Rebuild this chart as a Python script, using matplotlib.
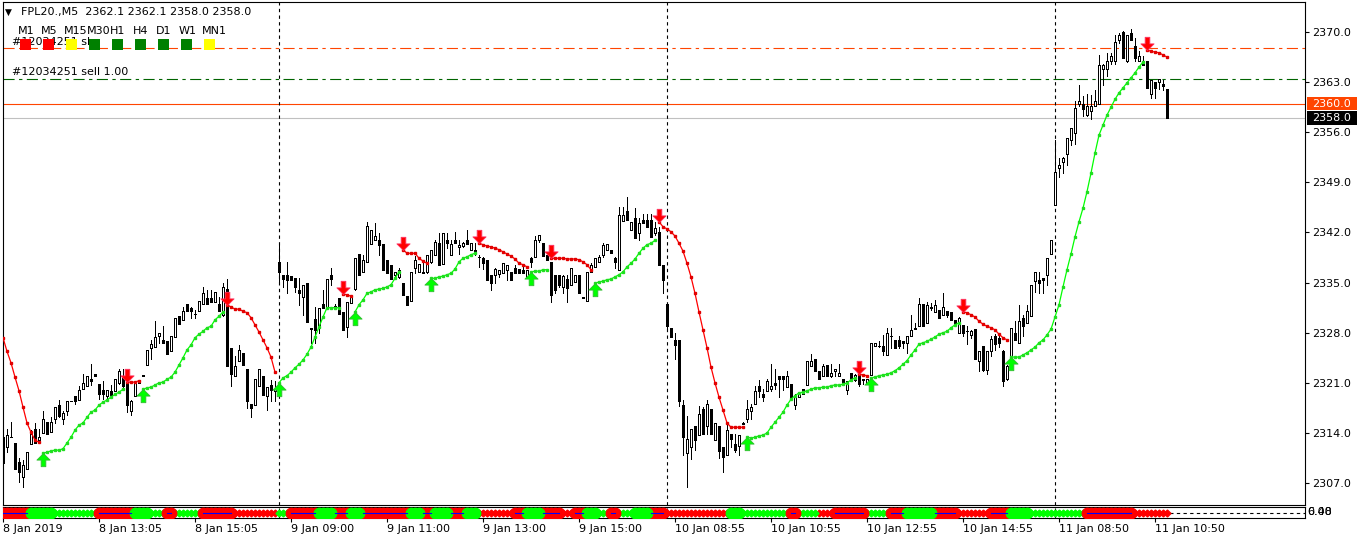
import numpy as np
import matplotlib
matplotlib.use("Agg")
import matplotlib.pyplot as plt
from matplotlib.path import Path
from matplotlib.patches import Rectangle
from matplotlib.transforms import blended_transform_factory

plt.rcParams['font.family'] = ['DejaVu Sans']

# ---------------- data (FPL20., M5) ----------------
opens = [
    2313.5, 2312.1, 2313.5, 2312.6, 2309.9, 2307.9, 2308.9, 2312.5, 2314.5, 2313.0,
    2314.0, 2315.6, 2314.1, 2315.9, 2317.9, 2316.0, 2317.0, 2318.5, 2319.1, 2318.6,
    2320.1, 2320.5, 2321.5, 2322.3, 2320.9, 2320.0, 2319.1, 2319.9, 2319.8, 2321.0,
    2321.9, 2321.4, 2317.0, 2319.1, 2321.0, 2322.0, 2323.5, 2325.8, 2326.0, 2327.5,
    2327.0, 2326.9, 2325.5, 2327.4, 2330.3, 2329.8, 2332.0, 2331.4, 2330.6, 2331.1,
    2332.0, 2332.9, 2332.9, 2332.3, 2332.0, 2330.5, 2334.1, 2325.8, 2321.9, 2324.0,
    2325.1, 2322.9, 2318.1, 2317.9, 2320.5, 2322.0, 2319.1, 2320.7, 2319.8,
    2337.9, 2336.1, 2336.1, 2335.9, 2335.6, 2334.0, 2333.0, 2334.9, 2328.6, 2329.9,
    2328.8, 2332.0, 2331.6, 2336.1, 2331.7, 2332.9, 2330.9, 2328.8, 2332.2, 2334.1,
    2339.0, 2336.5, 2337.9, 2340.4, 2341.0, 2341.0, 2340.4, 2338.2, 2337.5, 2336.1,
    2335.8, 2335.0, 2333.1, 2332.5, 2337.0, 2336.5, 2336.5, 2336.5, 2337.9, 2338.9,
    2340.5, 2337.6, 2340.9, 2338.9, 2341.0, 2340.0, 2340.1, 2341.0, 2339.6, 2339.6,
    2338.6, 2338.4, 2338.1, 2336.1, 2336.1, 2336.2, 2336.3, 2336.7, 2336.5, 2337.1,
    2336.9, 2336.8, 2335.8, 2338.4, 2338.6, 2341.0, 2340.6, 2338.9, 2337.9, 2336.1,
    2336.1, 2334.4, 2335.5, 2334.7, 2335.1, 2336.1, 2333.0, 2332.5, 2336.5, 2337.2,
    2337.9, 2338.9, 2339.5, 2339.6, 2338.4, 2336.8, 2343.6, 2345.0, 2342.4, 2344.0,
    2341.9, 2343.8, 2343.7, 2343.8, 2341.9, 2342.1, 2337.5,
    2332.0, 2328.6, 2327.0, 2327.0, 2317.9, 2311.2, 2312.1, 2315.0, 2313.7, 2317.4,
    2315.0, 2317.3, 2313.0, 2315.0, 2312.1, 2310.9, 2313.9, 2312.5, 2312.2, 2315.3,
    2315.9, 2317.0, 2318.0, 2320.5, 2319.5, 2319.8, 2320.2, 2321.0, 2321.9, 2322.0,
    2320.4, 2320.9, 2317.9, 2319.0, 2320.2, 2320.7, 2323.4, 2324.4, 2322.7, 2322.0,
    2323.5, 2322.0, 2322.7, 2322.0, 2321.5, 2320.0, 2322.4, 2321.4, 2322.6, 2321.6,
    2320.9, 2322.1, 2326.1, 2326.1, 2326.2, 2324.9, 2327.6, 2327.0, 2327.0, 2326.8,
    2326.5, 2327.5, 2328.6, 2328.9, 2332.0, 2329.3, 2331.6, 2330.9, 2331.2, 2330.5,
    2331.1, 2330.9, 2329.8, 2327.9, 2329.1, 2328.2, 2327.7, 2328.5, 2324.0, 2326.1,
    2322.8, 2325.5, 2327.5, 2327.2, 2325.4, 2321.6, 2323.0, 2327.9, 2326.5, 2330.0,
    2329.3, 2330.3, 2335.2, 2335.4, 2335.6, 2336.1, 2339.0, 2345.8, 2351.0, 2351.9,
    2352.9, 2354.9, 2355.9, 2359.9, 2359.9, 2358.4, 2358.9, 2359.7, 2359.9, 2364.9,
    2364.9, 2366.0, 2365.9, 2368.9, 2370.0, 2365.9, 2369.8, 2368.1, 2366.0, 2366.0,
    2366.0, 2361.4, 2363.0, 2363.0, 2362.8, 2362.1]
highs = [
    2314.4, 2314.5, 2315.6, 2312.6, 2310.5, 2310.2, 2311.4, 2314.4, 2315.4, 2314.5,
    2317.0, 2315.6, 2316.3, 2317.6, 2318.6, 2317.0, 2318.4, 2318.5, 2319.1, 2320.5,
    2322.3, 2321.9, 2323.6, 2322.3, 2320.9, 2321.2, 2320.0, 2320.7, 2321.6, 2322.9,
    2322.9, 2321.9, 2318.6, 2321.0, 2321.4, 2322.1, 2325.6, 2327.0, 2329.6, 2327.9,
    2328.9, 2326.9, 2327.5, 2330.0, 2330.3, 2331.6, 2332.0, 2331.6, 2331.2, 2332.5,
    2334.4, 2334.0, 2334.0, 2333.7, 2333.0, 2334.9, 2335.5, 2325.8, 2324.7, 2326.3,
    2325.1, 2322.9, 2318.1, 2321.5, 2322.9, 2322.0, 2320.4, 2321.4, 2321.2,
    2340.5, 2336.1, 2337.9, 2335.9, 2335.6, 2335.6, 2334.7, 2334.9, 2328.6, 2331.6,
    2331.5, 2334.0, 2335.5, 2337.0, 2332.0, 2332.9, 2330.9, 2332.3, 2333.1, 2338.4,
    2339.0, 2338.9, 2343.5, 2342.3, 2343.3, 2341.9, 2340.4, 2338.2, 2337.5, 2336.5,
    2337.0, 2335.0, 2333.1, 2336.5, 2338.7, 2337.6, 2337.7, 2338.9, 2339.6, 2341.0,
    2341.9, 2341.9, 2341.9, 2341.0, 2342.1, 2341.0, 2340.7, 2342.3, 2340.6, 2340.5,
    2338.9, 2338.6, 2338.1, 2336.1, 2337.0, 2336.8, 2337.7, 2337.5, 2336.5, 2337.5,
    2336.9, 2337.5, 2336.8, 2338.6, 2341.5, 2341.6, 2340.6, 2338.9, 2337.9, 2336.1,
    2336.1, 2336.1, 2336.1, 2337.0, 2336.1, 2336.1, 2333.0, 2336.5, 2337.7, 2338.4,
    2338.9, 2340.5, 2340.4, 2339.6, 2338.6, 2345.6, 2345.6, 2346.9, 2343.5, 2345.4,
    2344.0, 2344.6, 2344.6, 2344.6, 2343.5, 2342.8, 2337.5,
    2332.0, 2328.6, 2327.9, 2327.0, 2318.6, 2316.4, 2314.5, 2315.0, 2317.7, 2317.6,
    2318.6, 2317.3, 2315.4, 2315.0, 2312.1, 2315.6, 2313.9, 2313.9, 2313.7, 2315.6,
    2318.6, 2318.1, 2320.5, 2321.4, 2320.2, 2321.5, 2323.7, 2323.0, 2321.9, 2322.0,
    2322.6, 2320.9, 2319.5, 2319.5, 2320.2, 2324.0, 2325.0, 2324.4, 2322.7, 2323.6,
    2323.5, 2323.7, 2322.9, 2323.7, 2321.5, 2321.2, 2322.4, 2322.3, 2323.3, 2321.6,
    2321.5, 2326.5, 2326.5, 2326.8, 2327.7, 2328.6, 2328.6, 2327.0, 2327.5, 2326.8,
    2327.6, 2330.5, 2329.3, 2332.8, 2332.0, 2332.3, 2332.1, 2332.6, 2331.2, 2333.5,
    2331.1, 2330.9, 2329.8, 2330.2, 2329.1, 2328.9, 2328.4, 2328.5, 2325.4, 2326.1,
    2325.5, 2327.5, 2327.8, 2327.6, 2325.6, 2323.5, 2328.6, 2329.6, 2331.9, 2330.5,
    2331.9, 2334.7, 2336.5, 2336.5, 2335.6, 2338.4, 2341.0, 2354.9, 2352.4, 2352.6,
    2355.2, 2356.6, 2360.3, 2362.6, 2361.0, 2361.4, 2361.2, 2361.9, 2366.8, 2365.6,
    2367.0, 2367.0, 2369.6, 2369.8, 2370.1, 2369.6, 2370.4, 2369.1, 2367.3, 2366.6,
    2366.0, 2363.3, 2363.0, 2363.5, 2363.3, 2362.1]
lows = [
    2309.8, 2311.3, 2313.4, 2308.9, 2307.1, 2306.4, 2308.9, 2312.5, 2312.6, 2312.6,
    2314.0, 2313.9, 2314.1, 2315.4, 2316.3, 2315.3, 2316.5, 2318.4, 2318.1, 2318.6,
    2320.1, 2320.5, 2320.7, 2321.9, 2318.8, 2318.8, 2318.8, 2319.3, 2319.8, 2320.9,
    2320.4, 2316.9, 2316.5, 2319.1, 2321.0, 2321.9, 2323.5, 2324.4, 2326.0, 2326.5,
    2326.5, 2325.0, 2325.5, 2327.4, 2329.2, 2329.8, 2331.0, 2330.0, 2330.0, 2331.1,
    2332.0, 2332.0, 2332.3, 2332.3, 2331.0, 2330.3, 2323.3, 2320.5, 2321.9, 2324.0,
    2323.5, 2317.5, 2316.3, 2317.9, 2320.5, 2319.3, 2317.2, 2318.4, 2318.4,
    2335.1, 2334.4, 2333.5, 2335.3, 2333.7, 2331.9, 2330.5, 2329.5, 2326.5, 2326.5,
    2327.9, 2331.4, 2331.6, 2334.7, 2331.4, 2330.6, 2328.4, 2327.4, 2332.2, 2334.0,
    2336.1, 2336.5, 2337.9, 2340.4, 2341.0, 2338.9, 2336.8, 2336.3, 2335.5, 2335.9,
    2335.6, 2333.3, 2331.9, 2332.5, 2336.3, 2336.5, 2336.4, 2336.3, 2337.8, 2338.9,
    2337.5, 2337.6, 2339.8, 2338.9, 2340.5, 2339.0, 2340.0, 2340.4, 2339.6, 2338.9,
    2337.2, 2336.9, 2335.4, 2334.0, 2334.9, 2335.8, 2336.3, 2335.4, 2335.4, 2336.4,
    2336.4, 2336.3, 2335.8, 2337.2, 2338.6, 2340.7, 2338.7, 2338.2, 2332.3, 2333.5,
    2334.4, 2333.5, 2332.3, 2334.7, 2335.1, 2333.5, 2332.8, 2332.5, 2336.5, 2337.2,
    2337.9, 2338.6, 2339.5, 2339.1, 2337.0, 2336.8, 2343.6, 2343.7, 2342.3, 2341.2,
    2341.0, 2343.3, 2342.8, 2341.4, 2341.6, 2337.5, 2333.5,
    2328.6, 2327.4, 2324.4, 2317.7, 2310.9, 2306.4, 2310.3, 2311.6, 2313.7, 2313.9,
    2313.9, 2313.9, 2313.0, 2310.5, 2308.6, 2310.9, 2312.1, 2311.4, 2310.9, 2315.2,
    2315.6, 2315.9, 2318.0, 2319.0, 2318.4, 2319.8, 2319.8, 2320.1, 2319.0, 2320.0,
    2320.4, 2318.8, 2317.3, 2319.0, 2319.5, 2320.7, 2323.4, 2322.7, 2321.6, 2322.0,
    2321.9, 2321.8, 2322.0, 2321.9, 2320.8, 2319.4, 2321.2, 2321.2, 2320.5, 2320.8,
    2320.9, 2322.1, 2326.1, 2326.0, 2324.9, 2324.9, 2325.8, 2325.8, 2325.8, 2325.8,
    2325.1, 2327.5, 2328.5, 2328.9, 2328.9, 2329.3, 2331.2, 2330.9, 2330.0, 2330.5,
    2330.2, 2329.8, 2329.3, 2327.9, 2327.5, 2326.4, 2327.2, 2324.4, 2322.6, 2322.6,
    2322.3, 2324.8, 2325.6, 2326.0, 2320.5, 2321.4, 2322.9, 2327.0, 2326.5, 2327.5,
    2329.3, 2330.3, 2333.7, 2333.5, 2333.5, 2334.7, 2339.0, 2345.8, 2349.8, 2350.3,
    2351.4, 2354.2, 2354.3, 2359.6, 2358.2, 2358.2, 2357.9, 2359.6, 2359.9, 2362.6,
    2363.8, 2365.6, 2365.6, 2368.4, 2366.3, 2365.8, 2368.9, 2365.9, 2365.9, 2365.4,
    2362.2, 2360.8, 2360.8, 2362.1, 2361.9, 2358.0]
closes = [
    2309.8, 2313.7, 2313.5, 2308.9, 2308.5, 2309.5, 2311.4, 2313.9, 2312.6, 2313.5,
    2315.9, 2313.9, 2315.6, 2317.6, 2316.4, 2316.8, 2318.4, 2318.4, 2318.4, 2320.0,
    2321.0, 2321.9, 2321.3, 2321.9, 2319.5, 2319.5, 2320.0, 2319.3, 2321.6, 2322.6,
    2320.5, 2317.9, 2318.4, 2321.0, 2321.4, 2322.1, 2325.6, 2326.4, 2327.4, 2327.9,
    2326.5, 2325.0, 2327.5, 2330.0, 2329.2, 2331.0, 2331.0, 2331.1, 2330.6, 2332.5,
    2333.5, 2332.0, 2332.3, 2333.7, 2331.0, 2334.4, 2323.3, 2322.3, 2323.3, 2325.6,
    2323.5, 2318.4, 2317.5, 2321.5, 2322.9, 2319.3, 2320.4, 2320.0, 2320.1,
    2336.5, 2335.5, 2335.4, 2335.3, 2334.4, 2333.5, 2334.7, 2329.5, 2328.5, 2328.4,
    2331.5, 2331.4, 2335.5, 2335.5, 2331.6, 2330.6, 2328.4, 2332.3, 2333.1, 2338.4,
    2336.1, 2338.2, 2342.9, 2342.3, 2341.5, 2340.2, 2336.8, 2336.3, 2335.5, 2336.5,
    2336.7, 2333.3, 2331.9, 2336.5, 2338.1, 2337.6, 2336.4, 2338.9, 2339.6, 2340.7,
    2337.5, 2341.9, 2340.5, 2340.4, 2340.5, 2340.2, 2340.6, 2340.4, 2340.6, 2339.2,
    2338.6, 2337.8, 2335.4, 2334.9, 2336.9, 2336.8, 2337.7, 2337.5, 2335.4, 2336.4,
    2336.4, 2336.4, 2336.8, 2337.9, 2341.0, 2341.6, 2338.7, 2338.2, 2333.3, 2334.0,
    2334.7, 2335.9, 2334.3, 2337.0, 2336.1, 2333.5, 2332.8, 2336.5, 2337.5, 2338.4,
    2338.6, 2340.2, 2340.4, 2339.1, 2337.9, 2344.4, 2344.4, 2343.7, 2343.5, 2341.2,
    2343.3, 2343.3, 2342.8, 2341.4, 2342.6, 2337.5, 2335.4,
    2328.9, 2327.4, 2326.3, 2318.4, 2313.4, 2313.1, 2314.5, 2313.0, 2316.6, 2313.9,
    2318.0, 2313.9, 2315.4, 2311.5, 2310.6, 2314.4, 2313.1, 2311.6, 2313.7, 2315.4,
    2317.3, 2317.6, 2319.8, 2319.9, 2319.0, 2321.2, 2320.6, 2320.7, 2321.5, 2321.5,
    2322.0, 2318.8, 2319.0, 2319.5, 2319.5, 2324.0, 2324.1, 2322.7, 2321.6, 2323.4,
    2321.9, 2322.4, 2322.9, 2322.4, 2320.8, 2321.2, 2321.2, 2322.1, 2320.9, 2321.4,
    2321.5, 2326.5, 2326.5, 2326.1, 2325.4, 2328.0, 2327.5, 2325.8, 2326.1, 2326.5,
    2327.6, 2328.4, 2328.5, 2332.0, 2328.9, 2331.9, 2331.4, 2331.9, 2330.0, 2331.6,
    2330.5, 2329.8, 2329.3, 2330.0, 2327.9, 2328.3, 2328.2, 2324.4, 2325.4, 2322.8,
    2325.5, 2327.1, 2326.4, 2326.5, 2321.2, 2323.3, 2328.6, 2327.0, 2329.6, 2328.9,
    2331.0, 2334.7, 2336.5, 2334.9, 2335.4, 2338.4, 2341.0, 2350.5, 2351.4, 2352.4,
    2355.2, 2356.6, 2359.4, 2360.3, 2359.3, 2359.6, 2359.6, 2360.4, 2365.4, 2365.4,
    2366.0, 2366.6, 2368.6, 2369.6, 2366.3, 2369.6, 2368.9, 2366.3, 2366.7, 2365.4,
    2362.2, 2363.3, 2362.2, 2363.5, 2362.4, 2358.0]

# trailing-stop indicator: (first bar, values)
dn_segments = [
    (0, [2327.3, 2325.4, 2323.8, 2321.8, 2319.9, 2317.6, 2315.4, 2314.1, 2313.0, 2312.7]),
    (31, [2321.1, 2321.1, 2321.1, 2321.3]),
    (56, [2331.9, 2331.6, 2331.3, 2331.3, 2331.0, 2330.8, 2330.1, 2329.1, 2328.1, 2327.0,
          2325.9, 2324.6, 2322.5]),
    (85, [2333.4, 2333.3, 2333.1]),
    (100, [2339.6, 2339.1, 2339.1, 2339.1, 2338.4, 2338.0, 2337.7]),
    (119, [2340.5, 2340.3, 2340.1, 2340.0, 2339.8, 2339.6, 2339.3, 2339.0, 2338.7, 2338.3,
           2337.7, 2337.5, 2337.2]),
    (137, [2338.4, 2338.4, 2338.4, 2338.4, 2338.3, 2338.3, 2338.3, 2338.2, 2337.9, 2337.5,
           2336.8]),
    (164, [2343.5, 2342.8, 2342.5, 2342.1, 2341.5, 2340.5, 2339.4, 2337.7, 2335.8, 2333.5,
           2330.9, 2328.4, 2325.9, 2323.2, 2321.0, 2319.0, 2317.2, 2315.4, 2314.8, 2314.8,
           2314.8, 2314.8]),
    (214, [2322.2, 2322.1, 2322.0]),
    (240, [2330.9, 2330.8, 2330.5, 2330.2, 2329.6, 2329.2, 2328.9, 2328.7, 2328.4, 2327.8,
           2327.3, 2327.0]),
    (286, [2367.5, 2367.3, 2367.2, 2367.1, 2366.8, 2366.5]),
]
up_segments = [
    (10, [2311.2, 2311.3, 2311.5, 2311.6, 2311.6, 2311.8, 2312.6, 2313.4, 2314.4, 2315.1,
          2315.4, 2316.2, 2316.9, 2317.2, 2317.9, 2318.3, 2318.6, 2319.0, 2319.4, 2319.7,
          2320.1]),
    (35, [2320.1, 2320.3, 2320.4, 2320.7, 2321.0, 2321.1, 2321.5, 2321.8, 2322.5, 2323.5,
          2324.5, 2325.6, 2326.3, 2327.3, 2327.8, 2328.2, 2328.7, 2328.9, 2329.8, 2330.3,
          2330.9]),
    (69, [2321.0, 2321.7, 2322.0, 2322.5, 2323.1, 2323.6, 2324.2, 2325.0, 2326.0, 2327.4,
          2328.8, 2330.2, 2331.5, 2331.5, 2331.5, 2331.5]),
    (88, [2330.9, 2331.9, 2332.6, 2333.5, 2333.7, 2334.0, 2334.1, 2334.2, 2334.4, 2334.7,
          2335.6, 2336.5]),
    (107, [2335.6, 2335.6, 2335.8, 2335.9, 2336.1, 2336.3, 2336.9, 2337.9, 2338.4, 2338.6,
           2338.9, 2339.1]),
    (132, [2336.5, 2336.6, 2336.6, 2336.8, 2336.8]),
    (148, [2334.9, 2335.1, 2335.2, 2335.4, 2335.5, 2335.8, 2336.1, 2336.5, 2337.2, 2337.7,
           2338.3, 2339.1, 2339.8, 2340.3, 2340.5, 2340.9]),
    (186, [2313.4, 2313.3, 2313.4, 2313.6, 2313.7, 2314.0, 2314.8, 2315.5, 2316.2, 2316.9,
           2317.9, 2318.7, 2319.2, 2319.6, 2319.7, 2319.9, 2320.1, 2320.3, 2320.3, 2320.4,
           2320.4, 2320.6, 2320.7, 2320.7, 2320.8, 2321.0, 2321.4, 2321.7]),
    (217, [2321.7, 2321.8, 2322.0, 2322.1, 2322.2, 2322.4, 2322.7, 2323.1, 2323.6, 2324.1,
           2324.9, 2325.6, 2326.4, 2326.6, 2326.8, 2327.1, 2327.4, 2327.8, 2328.0, 2328.2,
           2328.7, 2329.1, 2329.4]),
    (252, [2324.6, 2324.6, 2324.6, 2324.9, 2325.2, 2325.6, 2326.0, 2326.6, 2327.0, 2327.7,
           2328.5, 2330.2, 2331.9, 2334.4, 2336.8, 2339.0, 2341.4, 2343.5, 2345.4, 2347.7,
           2350.3, 2353.1, 2355.6, 2357.0, 2358.4, 2359.5, 2360.6, 2361.5, 2362.2, 2362.9,
           2363.6, 2364.3, 2365.1, 2365.8]),
]

# lower sub-window: (state, number of bars)  R/G big dots, r/g small dots
strip_runs = [('R', 7), ('G', 6), ('g', 11), ('R', 9), ('G', 4), ('g', 4), ('R', 2), ('g', 7),
              ('R', 8), ('r', 11), ('g', 3), ('R', 7), ('G', 4), ('R', 4), ('G', 3), ('R', 12),
              ('G', 3), ('R', 3), ('G', 4), ('R', 4), ('G', 3), ('r', 9), ('R', 3), ('G', 4),
              ('R', 5), ('r', 3), ('R', 3), ('G', 3), ('g', 3), ('R', 2), ('g', 4), ('G', 4),
              ('R', 4), ('r', 16), ('G', 3), ('g', 12), ('R', 2), ('g', 5), ('r', 4), ('R', 8),
              ('g', 6), ('R', 4), ('G', 7), ('R', 6), ('r', 8), ('R', 5), ('G', 5), ('g', 14),
              ('R', 12), ('r', 9)]

tick_bars = [0, 24, 48, 72, 96, 120, 144, 168, 192, 216, 240, 264, 288]
tick_labels = ["8 Jan 2019", "8 Jan 13:05", "8 Jan 15:05", "9 Jan 09:00", "9 Jan 11:00",
               "9 Jan 13:00", "9 Jan 15:00", "10 Jan 08:55", "10 Jan 10:55", "10 Jan 12:55",
               "10 Jan 14:55", "11 Jan 08:50", "11 Jan 10:50"]
day_starts = [69, 166, 263]
price_ticks = [2307.0, 2314.0, 2321.0, 2328.0, 2335.0, 2342.0, 2349.0, 2356.0, 2363.0, 2370.0]

sl_level = 2367.8      # order stop loss (dash-dot)
order_level = 2363.4   # sell 1.00 open (dash-dot)
alert_level = 2360.0   # solid orange line
bid = closes[-1]

tf_names = ["M1", "M5", "M15", "M30", "H1", "H4", "D1", "W1", "MN1"]
tf_colors = ["#ff0000", "#ff0000", "#ffff00", "#008000", "#008000", "#008000", "#008000",
             "#008000", "#ffff00"]

# ---------------- figure ----------------
W, H = 1362, 542
fig = plt.figure(figsize=(W / 100, H / 100), dpi=100)

def fx(px):
    return px / W

def fy(py):
    return 1 - py / H

ax = fig.add_axes([fx(3), fy(505), 1302 / W, 503 / H])
sub = fig.add_axes([fx(3), fy(518), 1302 / W, 11 / H])

n = len(opens)
x = np.arange(n)
o, hi, lo, c = map(np.array, (opens, highs, lows, closes))
bull = c >= o

# candles: 1px wicks, 3px bodies with a 1px outline
ax.vlines(x, lo, hi, color="black", lw=0.72, antialiased=False, zorder=2)
ax.bar(x, np.abs(c - o), bottom=np.minimum(o, c), width=0.55,
       color=np.where(bull, "white", "black"), edgecolor="black", linewidth=0.6,
       antialiased=False, zorder=3)

# indicator lines
def seg_array(segments):
    arr = np.full(n, np.nan)
    for start, vals in segments:
        arr[start:start + len(vals)] = vals
    return arr

dn = seg_array(dn_segments)
up = seg_array(up_segments)
ax.plot(x, dn, color="#ff0000", lw=0.9, marker="s", ms=2.0, mec="#e00000", zorder=4)
ax.plot(x, up, color="#00ff00", lw=0.9, marker="s", ms=2.0, mec="#22dd22", zorder=4)

# arrows at the flips
dn_arrow = Path([(0, 0), (-6.5, 6.5), (-2.3, 6.5), (-2.3, 13), (2.3, 13), (2.3, 6.5), (6.5, 6.5), (0, 0)],
                [Path.MOVETO] + [Path.LINETO] * 6 + [Path.CLOSEPOLY])
up_arrow = Path(dn_arrow.vertices * [1, -1], dn_arrow.codes)
dn_at = [s for s, _ in dn_segments if s > 0]
up_at = [s for s, _ in up_segments if s > 0]
ax.plot(dn_at, dn[dn_at], ls="none", marker=dn_arrow, ms=19, mfc="#ff0000", mec="#ff3060",
        mew=0.6, zorder=6)
ax.plot(up_at, up[up_at], ls="none", marker=up_arrow, ms=19, mfc="#00ff00", mec="#33bb33",
        mew=0.6, zorder=6)

# horizontal levels
ax.axhline(sl_level, color="#ff4500", lw=0.8, dashes=(10, 4, 3, 4), zorder=1)
ax.axhline(order_level, color="#006400", lw=0.8, dashes=(10, 4, 3, 4), zorder=1)
ax.axhline(alert_level, color="#ff4500", lw=0.8, zorder=1)
ax.axhline(bid, color="#c0c0c0", lw=0.8, zorder=1)

# day separators
for d in day_starts:
    ax.axvline(d, color="black", lw=0.8, dashes=(3, 3), zorder=1)
    sub.axvline(d, color="black", lw=0.8, dashes=(3, 3), zorder=1)

ax.set_xlim(0, 325.5)
ax.set_ylim(2303.94, 2374.19)
ax.set_xticks([])
ax.yaxis.tick_right()
ax.set_yticks(price_ticks)
ax.set_yticklabels([f"{p:.1f}" for p in price_ticks])
ax.tick_params(axis="y", direction="out", length=3, width=0.8, labelsize=8, pad=2)
for sp in ax.spines.values():
    sp.set_linewidth(0.8)

# price tags on the right scale
trans = blended_transform_factory(ax.transAxes, ax.transData)
for level, bg in [(alert_level, "#ff4500"), (bid, "black")]:
    ax.add_patch(Rectangle((1.0015, level - 0.92), 0.0385, 1.84, transform=trans,
                           facecolor=bg, edgecolor="none", clip_on=False, zorder=10))
    ax.text(1.0055, level, f"{level:.1f}", transform=trans, color="white", fontsize=8,
            va="center", ha="left", clip_on=False, zorder=11)

# sub-window
codes = "".join(ch * k for ch, k in strip_runs)
sub.axhline(0.42, color="black", lw=0.8, dashes=(3, 3), zorder=1)
styles = {"R": ("#ff0000", "o", 7.5), "G": ("#00ff00", "o", 7.5),
          "r": ("#ff0000", "D", 3.5), "g": ("#00ff00", "D", 3.5)}
for key, (col, mk, ms) in styles.items():
    idx = np.array([i for i, ch in enumerate(codes) if ch == key])
    order = 3 if key.isupper() else 2
    sub.plot(idx, np.full(len(idx), 0.5), ls="none", marker=mk, ms=ms, color=col, mec=col,
             zorder=order)
start = 0
for ch, k in strip_runs:
    if ch == "R":
        sub.plot([start, start + k - 1], [0.5, 0.5], color="#0000ff", lw=0.8, zorder=4)
    start += k
sub.set_xlim(0, 325.5)
sub.set_ylim(0, 1)
sub.set_yticks([])
sub.set_xticks(tick_bars)
sub.set_xticklabels(tick_labels, ha="left")
sub.tick_params(axis="x", direction="out", length=3, width=0.8, labelsize=8, pad=1.5)
for sp in sub.spines.values():
    sp.set_linewidth(0.8)
fig.text(fx(1307), fy(512), "0.00", fontsize=8, va="center", ha="left")
fig.text(fx(1307), fy(512), "6.48", fontsize=8, va="center", ha="left")

# header and chart labels
fig.text(fx(5), fy(12), "\u25bc", fontsize=6.5, va="center", ha="left")
fig.text(fx(21), fy(12), f"FPL20.,M5  {opens[-1]:.1f} {highs[-1]:.1f} {lows[-1]:.1f} {closes[-1]:.1f}",
         fontsize=8, va="center", ha="left")
fig.text(fx(12), fy(42), "#12034251 sl", fontsize=8, va="center", ha="left", zorder=2)
fig.text(fx(12), fy(72), "#12034251 sell 1.00", fontsize=8, va="center", ha="left", zorder=2)
for k, (name, col) in enumerate(zip(tf_names, tf_colors)):
    left = 20 + 23 * k
    fig.text(fx(left - 2), fy(31.5), name, fontsize=8, va="center", ha="left", zorder=4)
    fig.patches.append(Rectangle((fx(left), fy(49.5)), 11 / W, 11 / H, transform=fig.transFigure,
                                 facecolor=col, edgecolor="none", zorder=5))

fig.savefig("out.png", dpi=100)
